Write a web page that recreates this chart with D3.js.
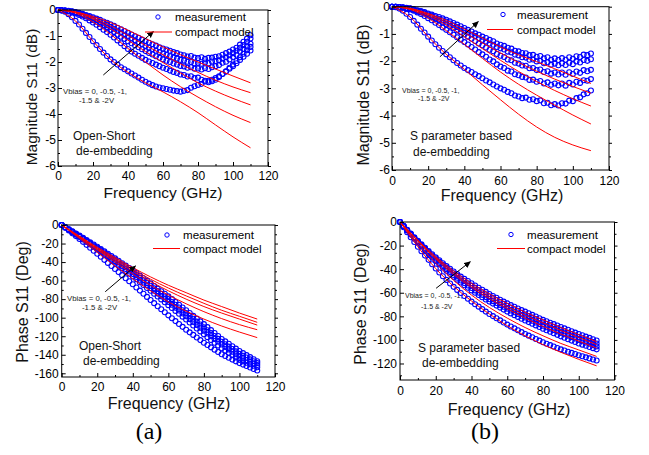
<!DOCTYPE html>
<html>
<head>
<meta charset="utf-8">
<title>S11 magnitude and phase</title>
<script src="https://d3js.org/d3.v7.min.js"></script>
<style>
  body { margin: 0; background: #fff; }
  svg text { font-family: "Liberation Sans", Arial, sans-serif; fill: #000; }
</style>
</head>
<body>
<div id="chart"></div>
<script>
// frequency grids (GHz)
var freqMeas = [0,2,4,6,8,10,12,14,16,18,20,22,24,26,28,30,32,34,36,38,40,42,44,46,48,50,52,54,56,58,
                60,62,64,66,68,70,72,74,76,78,80,82,84,86,88,90,92,94,96,98,100,102,104,106,108,110];
var freqModel = [0,10,20,30,40,50,60,70,80,90,100,110];
var xTicks = [0,20,40,60,80,100,120];

// (a) Open-Short de-embedding, |S11| dB, measured (bias 0, -0.5, -1, -1.5, -2 V)
var osMagMeas0 = [0,-0.02,-0.07,-0.16,-0.28,-0.42,-0.56,-0.72,-0.88,-1.04,
  -1.2,-1.35,-1.5,-1.64,-1.77,-1.9,-2.0,-2.1,-2.2,-2.28,
  -2.36,-2.44,-2.52,-2.6,-2.68,-2.76,-2.83,-2.89,-2.94,-2.98,
  -3.01,-3.04,-3.07,-3.1,-3.12,-3.14,-3.11,-3.08,-2.99,-2.93,
  -2.88,-2.84,-2.75,-2.72,-2.68,-2.62,-2.55,-2.45,-2.37,-2.26,
  -2.16,-2.05,-1.92,-1.8,-1.68,-1.56];
var osMagMeas05 = [0,-0.01,-0.03,-0.06,-0.09,-0.13,-0.19,-0.25,-0.32,-0.4,
  -0.48,-0.57,-0.66,-0.76,-0.85,-0.95,-1.06,-1.17,-1.28,-1.39,
  -1.5,-1.6,-1.68,-1.76,-1.84,-1.92,-1.98,-2.04,-2.1,-2.16,
  -2.22,-2.27,-2.33,-2.38,-2.42,-2.48,-2.5,-2.56,-2.55,-2.62,
  -2.6,-2.68,-2.72,-2.78,-2.74,-2.68,-2.58,-2.46,-2.36,-2.22,
  -2.1,-1.96,-1.82,-1.68,-1.55,-1.42];
var osMagMeas1 = [0,-0.01,-0.02,-0.04,-0.07,-0.1,-0.14,-0.19,-0.25,-0.31,
  -0.38,-0.45,-0.53,-0.6,-0.68,-0.76,-0.85,-0.94,-1.03,-1.11,
  -1.2,-1.28,-1.36,-1.43,-1.51,-1.58,-1.65,-1.71,-1.78,-1.84,
  -1.9,-1.95,-2.0,-2.06,-2.1,-2.15,-2.17,-2.22,-2.2,-2.26,
  -2.25,-2.29,-2.24,-2.27,-2.2,-2.16,-2.12,-2.03,-1.99,-1.9,
  -1.81,-1.72,-1.6,-1.5,-1.4,-1.3];
var osMagMeas15 = [0,-0.01,-0.02,-0.04,-0.06,-0.09,-0.13,-0.17,-0.22,-0.27,
  -0.32,-0.38,-0.45,-0.51,-0.58,-0.65,-0.72,-0.8,-0.87,-0.95,
  -1.02,-1.09,-1.17,-1.24,-1.31,-1.38,-1.44,-1.5,-1.57,-1.62,
  -1.68,-1.73,-1.78,-1.83,-1.87,-1.92,-1.94,-1.99,-2.0,-2.05,
  -2.04,-2.07,-2.02,-2.05,-1.98,-1.96,-1.93,-1.87,-1.82,-1.74,
  -1.66,-1.57,-1.45,-1.35,-1.22,-1.1];
var osMagMeas2 = [0,-0.01,-0.02,-0.03,-0.05,-0.08,-0.11,-0.15,-0.19,-0.23,
  -0.28,-0.33,-0.38,-0.44,-0.49,-0.55,-0.61,-0.68,-0.74,-0.81,
  -0.88,-0.94,-1.01,-1.07,-1.14,-1.2,-1.26,-1.32,-1.37,-1.43,
  -1.48,-1.52,-1.57,-1.62,-1.66,-1.71,-1.74,-1.79,-1.77,-1.83,
  -1.85,-1.82,-1.88,-1.84,-1.83,-1.8,-1.78,-1.72,-1.66,-1.6,
  -1.52,-1.45,-1.33,-1.22,-1.1,-0.97];
// (a) compact model |S11| dB
var osMagModel0  = [0,-0.42,-1.2,-1.9,-2.4,-2.8,-3.15,-3.53,-3.95,-4.42,-4.88,-5.3];
var osMagModel05 = [0,-0.12,-0.46,-0.93,-1.48,-2.0,-2.5,-2.95,-3.35,-3.72,-4.05,-4.33];
var osMagModel1  = [0,-0.09,-0.35,-0.72,-1.16,-1.6,-2.02,-2.42,-2.8,-3.12,-3.4,-3.65];
var osMagModel15 = [0,-0.08,-0.3,-0.6,-0.98,-1.36,-1.72,-2.07,-2.4,-2.7,-2.96,-3.18];
var osMagModel2  = [0,-0.07,-0.25,-0.48,-0.78,-1.1,-1.42,-1.72,-2.0,-2.27,-2.54,-2.8];

// (b) S-parameter based de-embedding, |S11| dB, measured
var spMagMeas0 = [0,-0.02,-0.07,-0.15,-0.26,-0.38,-0.52,-0.66,-0.81,-0.95,
  -1.1,-1.24,-1.38,-1.51,-1.63,-1.75,-1.86,-1.97,-2.07,-2.16,
  -2.25,-2.33,-2.4,-2.48,-2.55,-2.63,-2.71,-2.78,-2.86,-2.93,
  -3.0,-3.05,-3.13,-3.18,-3.26,-3.3,-3.36,-3.34,-3.42,-3.4,
  -3.47,-3.44,-3.55,-3.53,-3.62,-3.58,-3.63,-3.55,-3.56,-3.45,
  -3.47,-3.36,-3.33,-3.22,-3.18,-3.08];
var spMagMeas05 = [0,0,-0.02,-0.04,-0.07,-0.1,-0.15,-0.21,-0.27,-0.34,
  -0.42,-0.5,-0.59,-0.67,-0.76,-0.85,-0.94,-1.03,-1.12,-1.21,
  -1.3,-1.39,-1.48,-1.57,-1.67,-1.75,-1.84,-1.94,-2.01,-2.12,
  -2.2,-2.25,-2.35,-2.38,-2.48,-2.52,-2.58,-2.6,-2.69,-2.68,
  -2.76,-2.73,-2.82,-2.78,-2.87,-2.82,-2.89,-2.82,-2.9,-2.8,
  -2.86,-2.76,-2.8,-2.7,-2.72,-2.66];
var spMagMeas1 = [0,0,-0.01,-0.03,-0.05,-0.08,-0.12,-0.17,-0.21,-0.26,
  -0.32,-0.38,-0.45,-0.51,-0.58,-0.65,-0.72,-0.79,-0.87,-0.94,
  -1.02,-1.1,-1.18,-1.26,-1.35,-1.42,-1.5,-1.58,-1.64,-1.74,
  -1.8,-1.85,-1.94,-1.97,-2.06,-2.09,-2.16,-2.17,-2.26,-2.25,
  -2.33,-2.31,-2.4,-2.37,-2.46,-2.42,-2.49,-2.42,-2.5,-2.41,
  -2.47,-2.38,-2.43,-2.33,-2.37,-2.32];
var spMagMeas15 = [0,0,-0.01,-0.03,-0.05,-0.07,-0.11,-0.15,-0.19,-0.23,
  -0.28,-0.33,-0.39,-0.44,-0.5,-0.55,-0.62,-0.68,-0.75,-0.81,
  -0.88,-0.95,-1.02,-1.08,-1.16,-1.22,-1.28,-1.35,-1.4,-1.48,
  -1.53,-1.57,-1.65,-1.68,-1.76,-1.79,-1.86,-1.87,-1.95,-1.94,
  -2.01,-1.99,-2.08,-2.04,-2.13,-2.09,-2.15,-2.08,-2.14,-2.06,
  -2.11,-2.01,-2.05,-1.96,-1.99,-1.93];
var spMagMeas2 = [0,0,-0.01,-0.02,-0.04,-0.06,-0.09,-0.13,-0.16,-0.2,
  -0.25,-0.29,-0.34,-0.38,-0.43,-0.48,-0.54,-0.6,-0.66,-0.72,
  -0.78,-0.85,-0.91,-0.98,-1.03,-1.1,-1.15,-1.22,-1.27,-1.35,
  -1.4,-1.44,-1.51,-1.54,-1.62,-1.64,-1.7,-1.71,-1.78,-1.77,
  -1.84,-1.81,-1.9,-1.86,-1.95,-1.9,-1.96,-1.89,-1.95,-1.86,
  -1.91,-1.82,-1.85,-1.76,-1.78,-1.72];
// (b) compact model |S11| dB
var spMagModel0  = [0,-0.38,-1.1,-1.75,-2.3,-2.87,-3.42,-3.95,-4.42,-4.8,-5.08,-5.29];
var spMagModel05 = [0,-0.1,-0.42,-0.88,-1.38,-1.9,-2.4,-2.85,-3.25,-3.62,-3.98,-4.31];
var spMagModel1  = [0,-0.08,-0.33,-0.68,-1.1,-1.54,-1.97,-2.38,-2.75,-3.08,-3.38,-3.65];
var spMagModel15 = [0,-0.07,-0.28,-0.58,-0.95,-1.33,-1.7,-2.05,-2.37,-2.66,-2.93,-3.18];
var spMagModel2  = [0,-0.06,-0.25,-0.5,-0.82,-1.15,-1.48,-1.77,-2.02,-2.28,-2.55,-2.82];

// (a) phase S11 (deg), measured
var osPhMeas0 = [0,-3,-6,-9,-12,-15,-18.2,-21.4,-24.6,-27.8,
  -31,-34.3,-37.6,-40.9,-44.2,-47.5,-50.8,-54.1,-57.4,-60.7,
  -64,-67.4,-70.8,-74.2,-77.6,-81,-84.3,-87.6,-90.9,-94.2,
  -97.5,-100.6,-103.7,-106.8,-109.9,-113,-115.8,-118.6,-121.4,-124.2,
  -127,-129.5,-132,-134.5,-137,-139.5,-141.4,-143.3,-145.2,-147.1,
  -149,-150.6,-152.2,-153.8,-155.4,-157];
var osPhMeas05 = [0,-2.6,-5.2,-7.8,-10.4,-13,-15.7,-18.4,-21.1,-23.8,
  -26.5,-29.3,-32.1,-34.9,-37.7,-40.5,-43.5,-46.5,-49.5,-52.5,
  -55.5,-58.6,-61.7,-64.8,-67.9,-71,-74.1,-77.2,-80.3,-83.4,
  -86.5,-89.6,-92.7,-95.8,-98.9,-102,-105.2,-108.4,-111.6,-114.8,
  -118,-121,-124,-127,-130,-133,-135.5,-138,-140.5,-143,
  -145.5,-147.1,-148.7,-150.3,-151.9,-153.5];
var osPhMeas1 = [0,-2.5,-5,-7.5,-10,-12.5,-15.1,-17.7,-20.3,-22.9,
  -25.5,-28.2,-30.9,-33.6,-36.3,-39,-41.8,-44.6,-47.4,-50.2,
  -53,-56,-59,-62,-65,-68,-71,-74,-77,-80,
  -83,-86.1,-89.2,-92.3,-95.4,-98.5,-101.6,-104.7,-107.8,-110.9,
  -114,-117,-120,-123,-126,-129,-131.6,-134.2,-136.8,-139.4,
  -142,-143.8,-145.6,-147.4,-149.2,-151];
var osPhMeas15 = [0,-2.4,-4.8,-7.2,-9.6,-12,-14.5,-17,-19.5,-22,
  -24.5,-27.1,-29.7,-32.3,-34.9,-37.5,-40.2,-42.9,-45.6,-48.3,
  -51,-53.9,-56.8,-59.7,-62.6,-65.5,-68.4,-71.3,-74.2,-77.1,
  -80,-83,-86,-89,-92,-95,-98.1,-101.2,-104.3,-107.4,
  -110.5,-113.6,-116.7,-119.8,-122.9,-126,-128.6,-131.2,-133.8,-136.4,
  -139,-141,-143,-145,-147,-149];
var osPhMeas2 = [0,-2.3,-4.6,-6.9,-9.2,-11.5,-13.9,-16.3,-18.7,-21.1,
  -23.5,-26,-28.5,-31,-33.5,-36,-38.6,-41.2,-43.8,-46.4,
  -49,-51.8,-54.6,-57.4,-60.2,-63,-65.8,-68.6,-71.4,-74.2,
  -77,-80,-83,-86,-89,-92,-95,-98,-101,-104,
  -107,-110.2,-113.4,-116.6,-119.8,-123,-125.6,-128.2,-130.8,-133.4,
  -136,-138.2,-140.4,-142.6,-144.8,-147];
// (a) compact model phase
var osPhModel0  = [0,-14.5,-29.5,-44,-58,-71,-83,-93,-101.5,-109,-115.5,-121.5];
var osPhModel05 = [0,-13.5,-27,-40,-53,-65,-75.5,-85,-93.5,-101,-107.5,-113];
var osPhModel1  = [0,-13,-26,-38,-50,-61,-71,-80,-88,-95,-101.5,-108];
var osPhModel15 = [0,-12.5,-25,-36.5,-48,-58.5,-68,-76.5,-84.5,-92,-98.5,-105];
var osPhModel2  = [0,-12,-24,-35,-46,-56,-65,-73,-81,-88,-95,-101.5];

// (b) phase S11 (deg), measured
var spPhMeas0 = [0,-4.4,-8.7,-12.9,-17,-21,-24.8,-28.5,-32.1,-35.8,
  -39.5,-42.8,-46,-49.1,-52.1,-55,-57.6,-60.2,-62.7,-65.1,
  -67.5,-69.7,-71.8,-73.9,-76,-78,-79.8,-81.6,-83.4,-85.2,
  -87,-88.6,-90.2,-91.8,-93.4,-95,-96.4,-97.8,-99.2,-100.6,
  -102,-103.2,-104.4,-105.6,-106.8,-108,-109,-110,-111,-112,
  -113,-113.9,-114.8,-115.7,-116.6,-117.5];
var spPhMeas05 = [0,-3.6,-7.2,-10.7,-14.1,-17.5,-20.8,-24,-27.1,-30.1,
  -33,-35.8,-38.6,-41.3,-43.9,-46.5,-48.9,-51.3,-53.6,-55.8,
  -58,-60,-61.9,-63.8,-65.7,-67.5,-69.2,-70.9,-72.6,-74.3,
  -76,-77.5,-79,-80.5,-82,-83.5,-84.9,-86.3,-87.7,-89.1,
  -90.5,-91.8,-93.1,-94.4,-95.7,-97,-98.2,-99.4,-100.6,-101.8,
  -103,-104,-105,-106,-107,-108];
var spPhMeas1 = [0,-3.5,-7,-10.4,-13.7,-17,-20.2,-23.3,-26.3,-29.2,
  -32,-34.7,-37.4,-40,-42.5,-45,-47.3,-49.6,-51.8,-53.9,
  -56,-58,-59.9,-61.8,-63.7,-65.5,-67.1,-68.7,-70.3,-71.9,
  -73.5,-75,-76.5,-78,-79.5,-81,-82.4,-83.8,-85.2,-86.6,
  -88,-89.2,-90.4,-91.6,-92.8,-94,-95.2,-96.4,-97.6,-98.8,
  -100,-101.1,-102.2,-103.3,-104.4,-105.5];
var spPhMeas15 = [0,-3.4,-6.8,-10.1,-13.3,-16.5,-19.6,-22.6,-25.5,-28.3,
  -31,-33.6,-36.2,-38.7,-41.1,-43.5,-45.7,-47.9,-50,-52,
  -54,-55.9,-57.8,-59.6,-61.3,-63,-64.6,-66.2,-67.8,-69.4,
  -71,-72.5,-74,-75.5,-77,-78.5,-79.8,-81.1,-82.4,-83.7,
  -85,-86.3,-87.6,-88.9,-90.2,-91.5,-92.7,-93.9,-95.1,-96.3,
  -97.5,-98.6,-99.7,-100.8,-101.9,-103];
var spPhMeas2 = [0,-3.3,-6.6,-9.8,-12.9,-16,-19,-21.9,-24.7,-27.4,
  -30,-32.5,-35,-37.4,-39.7,-42,-44.2,-46.3,-48.2,-50.1,
  -52,-53.9,-55.7,-57.5,-59.3,-61,-62.7,-64.3,-65.9,-67.5,
  -69,-70.5,-71.9,-73.3,-74.7,-76,-77.4,-78.8,-80.2,-81.6,
  -83,-84.2,-85.4,-86.6,-87.8,-89,-90.2,-91.4,-92.6,-93.8,
  -95,-96.1,-97.2,-98.3,-99.4,-100.5];
// (b) compact model phase
var spPhModel0  = [0,-21,-39.5,-54.5,-67,-78,-88,-96.5,-104,-110.5,-116.5,-122];
var spPhModel05 = [0,-18.5,-35,-49.5,-62,-72.5,-81.5,-89.5,-96.5,-103,-108.5,-114];
var spPhModel1  = [0,-16.5,-31.5,-44.5,-55.5,-65,-73.5,-81.5,-88.5,-95,-101,-107];
var spPhModel15 = [0,-16,-30.5,-43,-54,-63,-71.5,-79,-85.5,-92,-98,-104];
var spPhModel2  = [0,-15.5,-29.5,-41.5,-52,-61,-69,-76.5,-83,-89.5,-95.5,-101.5];

var svg = d3.select("#chart").append("svg").attr("width", 649).attr("height", 455);

svg.append("defs").append("marker")
    .attr("id", "arrow").attr("viewBox", "0 0 8 8").attr("refX", 7).attr("refY", 4)
    .attr("markerWidth", 7).attr("markerHeight", 7).attr("markerUnits", "userSpaceOnUse")
    .attr("orient", "auto")
  .append("path").attr("d", "M0,0.5 L8,4 L0,7.5 Z").attr("fill", "#000");

var panels = [
  { left: 58, right: 268, top: 10, bottom: 166, yDomain: [-6, 0],
    yTicks: [0,-1,-2,-3,-4,-5,-6], yMinor: [-0.5,-1.5,-2.5,-3.5,-4.5,-5.5],
    meas: [osMagMeas0, osMagMeas05, osMagMeas1, osMagMeas15, osMagMeas2],
    model: [osMagModel0, osMagModel05, osMagModel1, osMagModel15, osMagModel2],
    yTitle: "Magnitude S11 (dB)", yTitleX: 32, yTitleY: 97, titleSize: 15.5,
    xTitleX: 163, xTitleY: 193, xPad: 5, yPad: 2,
    legX: 158, legY: 17, legLine: [145, 172], legY2: 32, legTextX: 175,
    arrow: [[25.9, -2.5], [54.5, -0.83]],
    vb: ["Vbias = 0, -0.5, -1,", "-1.5 & -2V"], vbX: [63, 79], vbY: [91, 100], vbSize: 7.8,
    note: ["Open-Short", "de-embedding"], noteX: [73, 76], noteY: [136, 151] },
  { left: 392, right: 609, top: 6.7, bottom: 170, yDomain: [-6, 0],
    yTicks: [0,-1,-2,-3,-4,-5,-6], yMinor: [-0.5,-1.5,-2.5,-3.5,-4.5,-5.5],
    meas: [spMagMeas0, spMagMeas05, spMagMeas1, spMagMeas15, spMagMeas2],
    model: [spMagModel0, spMagModel05, spMagModel1, spMagModel15, spMagModel2],
    yTitle: "Magnitude S11 (dB)", yTitleX: 363, yTitleY: 95, titleSize: 16,
    xTitleX: 502, xTitleY: 195, xPad: 6, yPad: 2,
    legX: 503, legY: 14.5, legLine: [487, 513], legY2: 29.5, legTextX: 517,
    arrow: [[26.5, -1.84], [47.7, -0.55]],
    vb: ["Vbias = 0, -0.5, -1,", "-1.5 & -2V"], vbX: [402, 418], vbY: [91, 99], vbSize: 7,
    note: ["S parameter based", "de-embedding"], noteX: [410, 413], noteY: [136, 152] },
  { left: 61.7, right: 275, top: 225, bottom: 377, yDomain: [-164, 0],
    yTicks: [0,-20,-40,-60,-80,-100,-120,-140,-160], yMinor: [-10,-30,-50,-70,-90,-110,-130,-150],
    meas: [osPhMeas0, osPhMeas05, osPhMeas1, osPhMeas15, osPhMeas2],
    model: [osPhModel0, osPhModel05, osPhModel1, osPhModel15, osPhModel2],
    yTitle: "Phase S11 (Deg)", yTitleX: 22, yTitleY: 302, titleSize: 16,
    xTitleX: 169, xTitleY: 403, xPad: 5, yPad: 3,
    legX: 167, legY: 235, legLine: [153, 180], legY2: 248.5, legTextX: 183,
    arrow: [[24.5, -72], [41.5, -44.2]],
    vb: ["Vbias = 0, -0.5, -1,", "-1.5 & -2V"], vbX: [67, 82], vbY: [298, 307.5], vbSize: 7.8,
    note: ["Open-Short", "de-embedding"], noteX: [79, 83], noteY: [346, 361] },
  { left: 400, right: 614.5, top: 222, bottom: 380, yDomain: [-134, 0],
    yTicks: [0,-20,-40,-60,-80,-100,-120], yMinor: [-10,-30,-50,-70,-90,-110,-130],
    meas: [spPhMeas0, spPhMeas05, spPhMeas1, spPhMeas15, spPhMeas2],
    model: [spPhModel0, spPhModel05, spPhModel1, spPhModel15, spPhModel2],
    yTitle: "Phase S11 (Deg)", yTitleX: 360, yTitleY: 304, titleSize: 16,
    xTitleX: 509, xTitleY: 409, xPad: 6, yPad: 3,
    legX: 511, legY: 234.5, legLine: [497, 525], legY2: 248.5, legTextX: 527,
    arrow: [[20.2, -56.2], [39.3, -33.7]],
    vb: ["Vbias = 0, -0.5, -1,", "-1.5 & -2V"], vbX: [405, 421], vbY: [296, 307], vbSize: 7,
    note: ["S parameter based", "de-embedding"], noteX: [418, 422], noteY: [348, 363] }
];

function drawPanel(p) {
  var x = d3.scaleLinear().domain([0, 120]).range([p.left, p.right]);
  var y = d3.scaleLinear().domain(p.yDomain).range([p.bottom, p.top]);
  var g = svg.append("g");

  // annotation text sits under the data
  p.vb.forEach(function(t, i) {
    g.append("text").attr("x", p.vbX[i]).attr("y", p.vbY[i]).attr("dy", "0.35em")
      .attr("font-size", p.vbSize).style("fill", "#222").text(t);
  });
  p.note.forEach(function(t, i) {
    g.append("text").attr("x", p.noteX[i]).attr("y", p.noteY[i]).attr("dy", "0.35em")
      .attr("font-size", 12).style("fill", "#111").text(t);
  });

  // measured points
  p.meas.forEach(function(vals) {
    g.append("g").selectAll("circle")
      .data(vals)
      .enter().append("circle")
      .attr("cx", function(d, i) { return x(freqMeas[i]); })
      .attr("cy", function(d) { return y(d); })
      .attr("r", 2.5)
      .attr("fill", "none")
      .attr("stroke", "#0000ff")
      .attr("stroke-width", 1.1);
  });

  // compact model lines
  var line = d3.line()
    .x(function(d, i) { return x(freqModel[i]); })
    .y(function(d) { return y(d); })
    .curve(d3.curveMonotoneX);
  p.model.forEach(function(vals) {
    g.append("path").attr("d", line(vals))
      .attr("fill", "none").attr("stroke", "#ff0000").attr("stroke-width", 1);
  });

  // bias arrow
  g.append("line")
    .attr("x1", x(p.arrow[0][0])).attr("y1", y(p.arrow[0][1]))
    .attr("x2", x(p.arrow[1][0])).attr("y2", y(p.arrow[1][1]))
    .attr("stroke", "#000").attr("stroke-width", 1)
    .attr("marker-end", "url(#arrow)");

  // frame
  g.append("rect")
    .attr("x", p.left).attr("y", p.top)
    .attr("width", p.right - p.left).attr("height", p.bottom - p.top)
    .attr("fill", "none").attr("stroke", "#000").attr("stroke-width", 1);

  // axes (ticks inward)
  var xMinor = [10, 30, 50, 70, 90, 110];
  var ax = g.append("g").attr("transform", "translate(0," + p.bottom + ")")
    .call(d3.axisBottom(x).tickValues(xTicks).tickSize(-4).tickPadding(p.xPad)
      .tickFormat(function(d) { return String(d); }));
  g.append("g").attr("transform", "translate(0," + p.bottom + ")")
    .call(d3.axisBottom(x).tickValues(xMinor).tickSize(-2).tickFormat(""));
  var ay = g.append("g").attr("transform", "translate(" + p.left + ",0)")
    .call(d3.axisLeft(y).tickValues(p.yTicks).tickSize(-4).tickPadding(p.yPad)
      .tickFormat(function(d) { return String(d); }));
  g.append("g").attr("transform", "translate(" + p.left + ",0)")
    .call(d3.axisLeft(y).tickValues(p.yMinor).tickSize(-2).tickFormat(""));
  // opposite side ticks
  g.append("g").attr("transform", "translate(" + p.right + ",0)")
    .call(d3.axisRight(y).tickValues(p.yTicks).tickSize(3).tickFormat(""));
  g.append("g").attr("transform", "translate(" + p.right + ",0)")
    .call(d3.axisRight(y).tickValues(p.yMinor).tickSize(2).tickFormat(""));

  g.selectAll(".domain").remove();
  g.selectAll(".tick line").attr("stroke", "#000");
  [ax, ay].forEach(function(a) {
    a.attr("font-family", null).attr("font-size", null);
    a.selectAll("text").attr("font-size", 12).style("fill", "#000");
  });

  // titles
  g.append("text").attr("x", p.xTitleX).attr("y", p.xTitleY).attr("dy", "0.35em")
    .attr("text-anchor", "middle").attr("font-size", p.titleSize).style("fill", "#111")
    .text("Frequency (GHz)");
  g.append("text")
    .attr("transform", "translate(" + p.yTitleX + "," + p.yTitleY + ") rotate(-90)")
    .attr("dy", "0.35em").attr("text-anchor", "middle").style("fill", "#111")
    .attr("font-size", p.titleSize).text(p.yTitle);

  // legend
  g.append("circle").attr("cx", p.legX).attr("cy", p.legY).attr("r", 2.2)
    .attr("fill", "none").attr("stroke", "#0000ff").attr("stroke-width", 1);
  g.append("text").attr("x", p.legTextX).attr("y", p.legY).attr("dy", "0.35em")
    .attr("font-size", 11.6).text("measurement");
  g.append("line").attr("x1", p.legLine[0]).attr("x2", p.legLine[1])
    .attr("y1", p.legY2).attr("y2", p.legY2)
    .attr("stroke", "#ff0000").attr("stroke-width", 1);
  g.append("text").attr("x", p.legTextX).attr("y", p.legY2).attr("dy", "0.35em")
    .attr("font-size", 11.6).text("compact model");
}

panels.forEach(drawPanel);

// panel captions
svg.append("text").attr("x", 149).attr("y", 431).attr("dy", "0.35em")
  .attr("text-anchor", "middle").attr("font-size", 24)
  .style("font-family", "'Liberation Serif', 'Times New Roman', serif").text("(a)");
svg.append("text").attr("x", 485).attr("y", 431).attr("dy", "0.35em")
  .attr("text-anchor", "middle").attr("font-size", 24)
  .style("font-family", "'Liberation Serif', 'Times New Roman', serif").text("(b)");
</script>
</body>
</html>
